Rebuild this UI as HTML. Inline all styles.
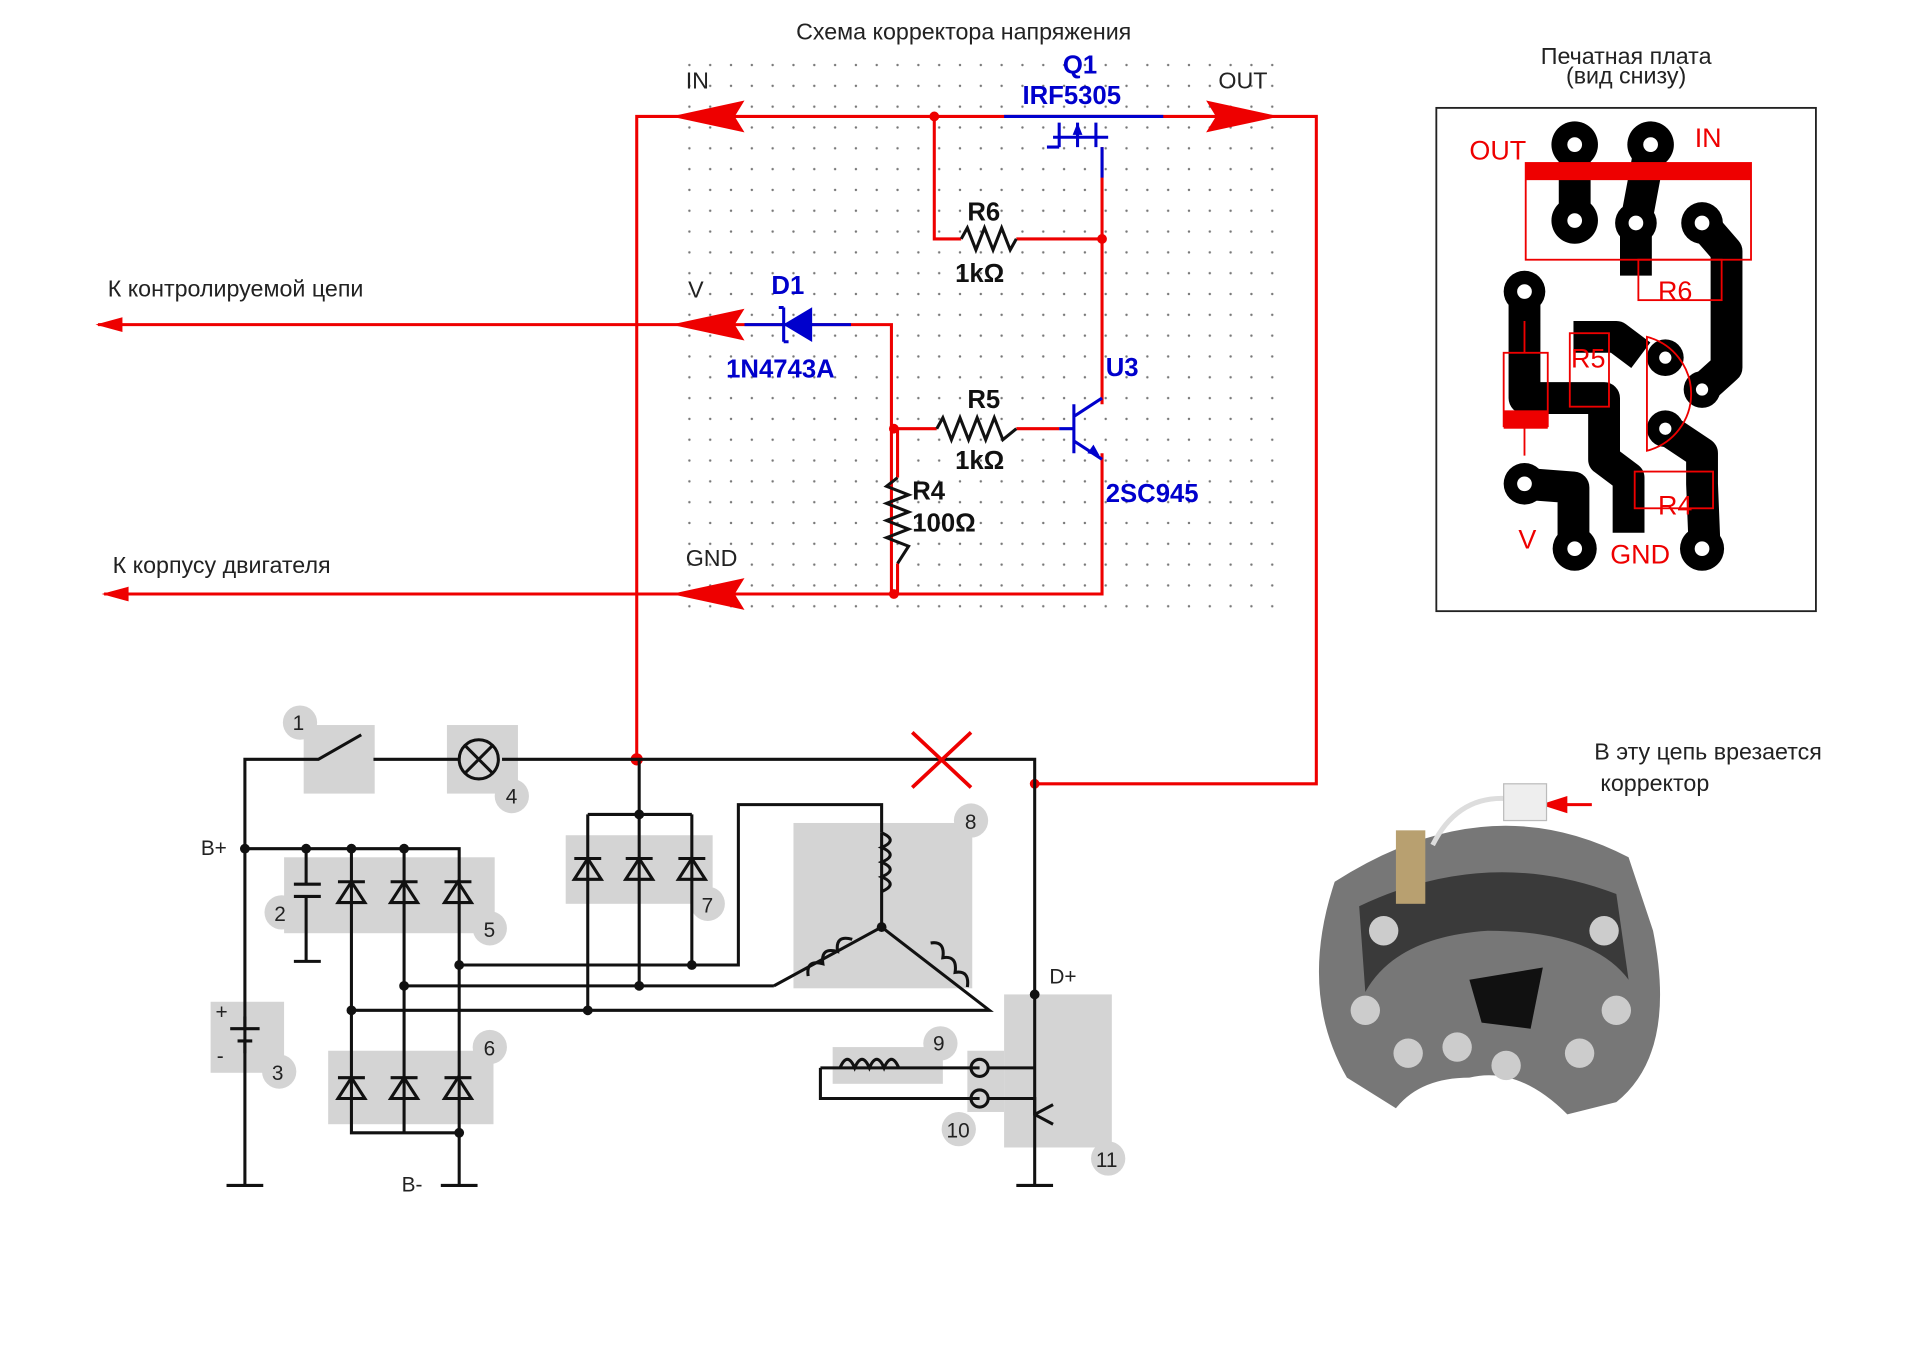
<!DOCTYPE html>
<html><head><meta charset="utf-8"><style>
html,body{margin:0;padding:0;background:#fff;width:1920px;height:1357px;overflow:hidden}
svg{display:block}
text{font-family:"Liberation Sans","DejaVu Sans",sans-serif}
</style></head><body>
<svg width="1920" height="1357" viewBox="0 0 1568 1108" xmlns="http://www.w3.org/2000/svg">
<defs>
<pattern id="dots" width="17" height="17" patternUnits="userSpaceOnUse"><circle cx="2" cy="2" r="1" fill="#777"/></pattern>
</defs>
<rect width="1568" height="1108" fill="#fff"/>
<rect x="555" y="45" width="487" height="455" fill="url(#dots)"/>
<text x="787" y="32" font-size="19" text-anchor="middle" fill="#222">Схема корректора напряжения</text>

<!-- red wires -->
<g stroke="#e00" stroke-width="2.5" fill="none">
<path d="M520 620 V95 H1075 V640 H845"/>
<path d="M80 265 H728 V485"/>
<path d="M85 485 H900 V370"/>
<path d="M763 95 V195 H785 M830 195 H900 M900 120 V330"/>
<path d="M728 350 H765 M830 350 H865"/>
<path d="M733 350 V390 M733 460 V485"/>
<path d="M1300 657 H1262"/>
</g>
<g stroke="#111" stroke-width="2.5" fill="none">
<polyline points="785,195 790,186 797,204 804,186 811,204 818,186 825,204 830,195"/>
<polyline points="765,350 770,341 777,359 784,341 791,359 798,341 805,359 812,341 819,359 830,350"/>
<polyline points="733,390 724,397 742,404 724,411 742,418 724,425 742,432 724,439 742,446 733,460"/>
</g>
<g fill="#e00">
<polygon points="548,95 608,82 600,95 608,108"/>
<polygon points="1045,95 985,82 993,95 985,108"/>
<polygon points="548,265 608,252 600,265 608,278"/>
<polygon points="548,485 608,472 600,485 608,498"/>
<polygon points="78,265 100,259 100,271"/>
<polygon points="83,485 105,479 105,491"/>
<polygon points="1258,657 1280,650 1280,664"/>
<circle cx="763" cy="95" r="4"/><circle cx="900" cy="195" r="4"/><circle cx="730" cy="350" r="4"/><circle cx="730" cy="485" r="4"/><circle cx="845" cy="640" r="4"/><circle cx="520" cy="620" r="5"/>
</g>
<!-- Q1 -->
<g stroke="#00c" stroke-width="2.5" fill="none">
<path d="M820 95 H950 M865 100 V120 M880 100 V120 M895 100 V120 M860 112 H905 M900 120 V145 M865 120 H855"/>
</g>
<polygon points="880,100 876,110 884,110" fill="#00c"/>
<!-- D1 -->
<g stroke="#00c" stroke-width="2.5" fill="#00c"><path d="M608 265 H695" fill="none"/><polygon points="642,265 662,253 662,277"/><path d="M640 251 V279 M636 251 H640 M640 279 H644" fill="none"/></g>
<!-- U3 -->
<g stroke="#00c" stroke-width="2.5" fill="none"><path d="M865 350 H877 M877 330 V370 M877 340 L900 325 M877 360 L900 375"/></g>
<polygon points="898,372 888,370 893,363" fill="#00c"/>
<g font-weight="bold" font-size="21">
<text x="868" y="60" fill="#00c">Q1</text><text x="835" y="85" fill="#00c">IRF5305</text>
<text x="630" y="240" fill="#00c">D1</text><text x="593" y="308" fill="#00c">1N4743A</text>
<text x="903" y="307" fill="#00c">U3</text><text x="903" y="410" fill="#00c">2SC945</text>
<text x="790" y="180" fill="#111">R6</text><text x="780" y="230" fill="#111">1kΩ</text>
<text x="790" y="333" fill="#111">R5</text><text x="780" y="383" fill="#111">1kΩ</text>
<text x="745" y="408" fill="#111">R4</text><text x="745" y="434" fill="#111">100Ω</text>
</g>
<g font-size="19" fill="#222">
<text x="560" y="72">IN</text><text x="995" y="72">OUT</text><text x="562" y="243">V</text><text x="560" y="462">GND</text>
<text x="88" y="242">К контролируемой цепи</text><text x="92" y="468">К корпусу двигателя</text>
<text x="1302" y="620">В эту цепь врезается</text><text x="1307" y="646">корректор</text>
<text x="1328" y="52" text-anchor="middle">Печатная плата</text><text x="1328" y="68" text-anchor="middle">(вид снизу)</text>
</g>
<!-- lower schematic gray boxes -->
<g fill="#d4d4d4">
<rect x="248" y="592" width="58" height="56"/><rect x="365" y="592" width="58" height="56"/>
<rect x="232" y="700" width="172" height="62"/><rect x="268" y="858" width="135" height="60"/>
<rect x="462" y="682" width="120" height="56"/><rect x="648" y="672" width="146" height="135"/>
<rect x="172" y="818" width="60" height="58"/><rect x="680" y="855" width="90" height="30"/>
<rect x="820" y="812" width="88" height="125"/><rect x="790" y="858" width="30" height="50"/>
</g>
<g fill="#d4d4d4"><circle cx="245" cy="590" r="14"/><circle cx="418" cy="650" r="14"/><circle cx="230" cy="745" r="14"/><circle cx="400" cy="758" r="14"/><circle cx="400" cy="855" r="14"/><circle cx="578" cy="738" r="14"/><circle cx="793" cy="670" r="14"/><circle cx="228" cy="875" r="14"/><circle cx="768" cy="852" r="14"/><circle cx="783" cy="922" r="14"/><circle cx="905" cy="946" r="14"/></g>
<g font-size="17" fill="#222"><text x="239" y="596">1</text><text x="413" y="656">4</text><text x="224" y="752">2</text><text x="395" y="765">5</text><text x="395" y="862">6</text><text x="573" y="745">7</text><text x="788" y="677">8</text><text x="222" y="882">3</text><text x="762" y="858">9</text><text x="773" y="929">10</text><text x="895" y="953">11</text>
<text x="164" y="698">B+</text><text x="328" y="973">B-</text><text x="857" y="803">D+</text><text x="176" y="832">+</text><text x="177" y="868">-</text></g>
<g stroke="#111" stroke-width="2.5" fill="none">
<path d="M200 968 V620 H260 L295 600 M305 620 H375 M410 620 H845 V968 M830 968 H860"/>
<path d="M200 693 H375 V968 M185 968 H215 M360 968 H390"/>
<path d="M250 693 V722 M240 722 H262 M240 732 H262 M250 732 V785 M240 785 H262"/>
<path d="M200 830 V840 M188 840 H212 M194 850 H206 M200 850 V860"/>
<path d="M287 693 V925 H375 M330 693 V925"/>
<path d="M287 825 H808 L720 757 L632 805 M330 805 H632 M720 757 V680"/>
<path d="M480 665 V825 M522 620 V805 M565 665 V788 M480 665 H565 M375 788 H603 V657 H720 V680"/>
<path d="M670 872 V897 H800 M670 872 H800 M808 872 H845 M808 897 H845 V910 L860 918 M845 910 L860 902"/>
<circle cx="391" cy="620" r="16"/><path d="M380 609 L402 631 M402 609 L380 631"/>
<path d="M686 872 q6 -14 12 0 q6 -14 12 0 q6 -14 12 0 q6 -14 12 0"/>
<path d="M720 680 q14 6 0 12 q14 6 0 12 q14 6 0 12 q14 6 0 12"/>
<path d="M660 797 q-2 -14 12 -10 q-2 -14 12 -10 q-2 -14 12 -10 M760 770 q12 -2 10 12 q12 -2 10 12 q12 -2 10 12"/>
<circle cx="800" cy="872" r="7"/><circle cx="800" cy="897" r="7"/>
</g>
<g stroke="#111" stroke-width="2.5" fill="none">
<path d="M276 737 H298 L287 720 Z M319 737 H341 L330 720 Z M363 737 H385 L374 720 Z M276 720 H298 M319 720 H341 M363 720 H385"/>
<path d="M276 897 H298 L287 880 Z M319 897 H341 L330 880 Z M363 897 H385 L374 880 Z M276 880 H298 M319 880 H341 M363 880 H385"/>
<path d="M469 718 H491 L480 701 Z M511 718 H533 L522 701 Z M554 718 H576 L565 701 Z M469 701 H491 M511 701 H533 M554 701 H576"/>
</g>
<g fill="#111"><circle cx="200" cy="693" r="4"/><circle cx="250" cy="693" r="4"/><circle cx="287" cy="693" r="4"/><circle cx="330" cy="693" r="4"/><circle cx="287" cy="825" r="4"/><circle cx="330" cy="805" r="4"/><circle cx="375" cy="788" r="4"/><circle cx="480" cy="825" r="4"/><circle cx="522" cy="805" r="4"/><circle cx="565" cy="788" r="4"/><circle cx="522" cy="665" r="4"/><circle cx="720" cy="757" r="4"/><circle cx="845" cy="812" r="4"/><circle cx="375" cy="925" r="4"/></g>
<g stroke="#e00" stroke-width="3"><path d="M745 598 L793 643 M793 598 L745 643"/></g>
<!-- PCB -->
<rect x="1173" y="88" width="310" height="411" fill="#fff" stroke="#222" stroke-width="1.5"/>
<g stroke="#000" stroke-width="26" fill="none" stroke-linejoin="round">
<path d="M1286 118 V180 M1348 118 L1336 182 M1336 182 V225 M1390 182 L1410 205 V300 L1390 318 M1245 238 V325 H1310 V375 L1330 390 V435 M1245 395 L1285 398 V448 M1360 350 L1390 370 V395 L1392 445 M1285 275 H1320 L1340 290"/>
</g>
<g fill="#000"><circle cx="1286" cy="118" r="19"/><circle cx="1348" cy="118" r="19"/><circle cx="1286" cy="180" r="19"/><circle cx="1336" cy="182" r="17"/><circle cx="1390" cy="182" r="17"/><circle cx="1245" cy="238" r="17"/><circle cx="1245" cy="395" r="17"/><circle cx="1286" cy="448" r="18"/><circle cx="1390" cy="448" r="18"/><circle cx="1360" cy="292" r="15"/><circle cx="1390" cy="318" r="15"/><circle cx="1360" cy="350" r="15"/></g>
<g fill="#fff"><circle cx="1286" cy="118" r="6"/><circle cx="1348" cy="118" r="6"/><circle cx="1286" cy="180" r="6"/><circle cx="1336" cy="182" r="6"/><circle cx="1390" cy="182" r="6"/><circle cx="1245" cy="238" r="6"/><circle cx="1245" cy="395" r="6"/><circle cx="1286" cy="448" r="6"/><circle cx="1390" cy="448" r="6"/><circle cx="1360" cy="292" r="5"/><circle cx="1390" cy="318" r="5"/><circle cx="1360" cy="350" r="5"/></g>
<g stroke="#e00" stroke-width="1.5" fill="none">
<rect x="1246" y="133" width="184" height="79"/><rect x="1338" y="212" width="68" height="33"/><rect x="1228" y="288" width="36" height="60"/><rect x="1282" y="272" width="32" height="60"/><rect x="1335" y="385" width="64" height="30"/>
<path d="M1345 275 A48 48 0 0 1 1345 368 Z M1245 262 V288 M1245 348 V372"/>
</g>
<rect x="1246" y="133" width="184" height="14" fill="#e00"/><rect x="1228" y="335" width="36" height="15" fill="#e00"/>
<g fill="#e00" font-size="22"><text x="1200" y="130">OUT</text><text x="1384" y="120">IN</text><text x="1240" y="448">V</text><text x="1315" y="460">GND</text><text x="1354" y="245">R6</text><text x="1283" y="300">R5</text><text x="1354" y="420">R4</text></g>
<!-- photo approximation -->
<path d="M1090 720 Q1215 640 1330 700 L1350 760 Q1370 860 1320 900 L1280 910 Q1240 870 1200 880 Q1160 880 1140 905 L1100 880 Q1060 810 1090 720 Z" fill="#777"/>
<path d="M1110 740 Q1215 690 1320 730 L1330 800 Q1300 760 1215 760 Q1140 765 1115 810 Z" fill="#3a3a3a"/>
<g fill="#ccc"><circle cx="1130" cy="760" r="12"/><circle cx="1115" cy="825" r="12"/><circle cx="1150" cy="860" r="12"/><circle cx="1310" cy="760" r="12"/><circle cx="1320" cy="825" r="12"/><circle cx="1290" cy="860" r="12"/><circle cx="1230" cy="870" r="12"/><circle cx="1190" cy="855" r="12"/></g>
<rect x="1140" y="678" width="24" height="60" fill="#b8a070"/>
<path d="M1170 690 Q1190 650 1230 652" stroke="#ddd" stroke-width="4" fill="none"/>
<rect x="1228" y="640" width="35" height="30" fill="#eee" stroke="#bbb"/>
<path d="M1200 800 L1260 790 L1250 840 L1210 835 Z" fill="#111"/>
</svg>
</body></html>
